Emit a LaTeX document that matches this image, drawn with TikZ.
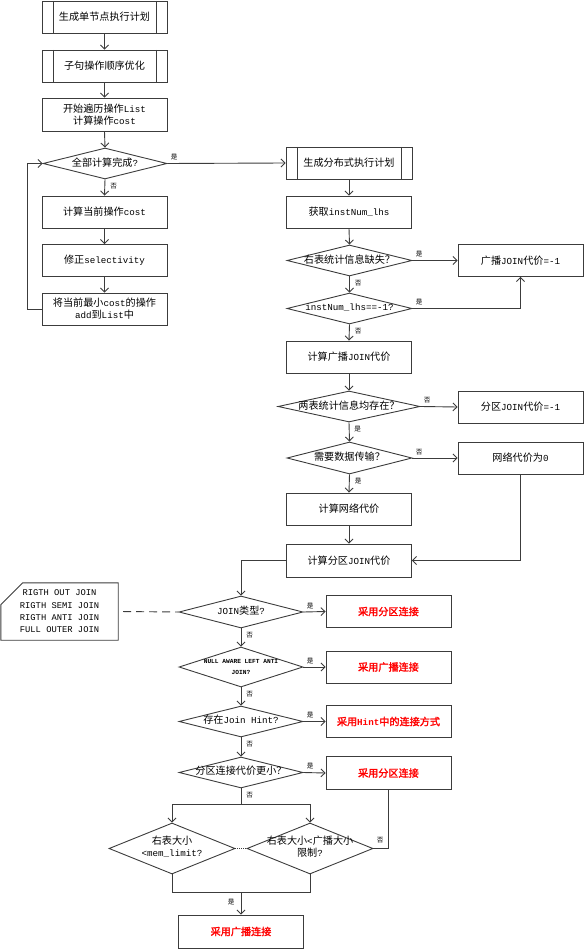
\documentclass[tikz,border=0pt]{standalone}
\usepackage{fontspec}
\setmainfont{Liberation Mono}
\newfontfamily\cjk[Scale=1.1,AutoFakeBold=2]{Noto Sans CJK SC}
\usetikzlibrary{shapes.geometric,arrows.meta,calc}
\newcommand\C[1]{{\cjk #1}}
\newcommand\dt[1]{\makebox[0pt]{\begin{tabular}{@{}c@{}}#1\end{tabular}}}
\definecolor{lc}{RGB}{60,60,60}
\definecolor{rd}{RGB}{255,0,0}
\begin{document}
\begin{tikzpicture}[x=1pt,y=-1pt,
  font=\fontsize{9.2}{12}\selectfont,
  box/.style={rectangle, draw=lc, line width=0.9pt, minimum width=125pt, minimum height=32pt, inner sep=0pt, align=center},
  sub/.style={box, path picture={
      \draw[lc, line width=0.9pt] ([xshift=11pt]path picture bounding box.north west) -- ([xshift=11pt]path picture bounding box.south west);
      \draw[lc, line width=0.9pt] ([xshift=-11pt]path picture bounding box.north east) -- ([xshift=-11pt]path picture bounding box.south east);}},
  res/.style={box, text=rd, font=\fontsize{9.2}{12}\selectfont\bfseries},
  dec/.style={diamond, aspect=4, draw=lc, line width=0.9pt, inner sep=0pt, minimum width=124pt, minimum height=31pt},
  ln/.style={draw=lc, line width=0.9pt},
  arr/.style={ln, -{Straight Barb[length=4pt,width=8pt]}},
  lbl/.style={font=\cjk\fontsize{6}{6}\selectfont, inner sep=1pt, text=black},
  lblE/.style={lbl, at start, anchor=south west, xshift=2pt, yshift=2pt},
  lblS/.style={lbl, at start, anchor=north west, xshift=4pt, yshift=-2pt}]
\useasboundingbox (0,0) rectangle (584,949);

% left column
\node[sub] (b1) at (104.5,17) {\C{生成单节点执行计划}};
\node[sub] (b2) at (104.5,66) {\C{子句操作顺序优化}};
\node[box, minimum height=33pt] (b3) at (104.5,114.5) {\C{开始遍历操作}List\\\C{计算操作}cost};
\node[dec] (d1) at (105,163.5) {\dt{\C{全部计算完成}?}};
\node[box] (b4) at (104.5,212) {\C{计算当前操作}cost};
\node[box] (b5) at (104.5,260.5) {\C{修正}selectivity};
\node[box] (b6) at (104.5,309) {\C{将当前最小}cost\C{的操作}\\add\C{到}List\C{中}};

% right column
\node[sub, minimum width=126pt] (r1) at (349,163) {\C{生成分布式执行计划}};
\node[box] (r2) at (349,212) {\C{获取}instNum\_lhs};
\node[dec, minimum width=125pt] (d2) at (349.5,260.5) {\dt{\C{右表统计信息缺失？}}};
\node[box] (r3) at (520.5,260.5) {\C{广播}JOIN\C{代价}=-1};
\node[dec, minimum width=125pt] (d3) at (349.5,308.5) {\dt{instNum\_lhs==-1?}};
\node[box] (r4) at (349,357) {\C{计算广播}JOIN\C{代价}};
\node[dec, minimum width=142pt] (d4) at (349,406.5) {\dt{\C{两表统计信息均存在？}}};
\node[box] (r5) at (520.5,407) {\C{分区}JOIN\C{代价}=-1};
\node[dec, minimum width=125pt, minimum height=32pt] (d5) at (349.5,458) {\dt{\C{需要数据传输？}}};
\node[box] (r6) at (520.5,458) {\C{网络代价为}0};
\node[box] (r7) at (349,509) {\C{计算网络代价}};
\node[box, minimum height=33pt] (r8) at (349,560.5) {\C{计算分区}JOIN\C{代价}};

% join decisions
\node[minimum width=117pt, minimum height=57pt, inner sep=0pt, align=center,
      font=\fontsize{8.8}{12.3}\selectfont] (note) at (59.5,611.5)
      {RIGTH OUT JOIN\\RIGTH SEMI JOIN\\RIGTH ANTI JOIN\\FULL OUTER JOIN};
\draw[ln] ($(note.north west)+(0,22)$) -- ($(note.north west)+(22,0)$) -- (note.north east)
      -- (note.south east) -- (note.south west) -- cycle;
\node[dec, minimum height=32pt] (d6) at (241,612) {\dt{JOIN\C{类型}?}};
\node[res] (o1) at (388.5,611.5) {\C{采用分区连接}};
\node[dec, minimum height=40pt] (d7) at (241,667)
      {\makebox[0pt]{\fontsize{6.2}{11}\selectfont\bfseries\begin{tabular}{@{}c@{}}NULL AWARE LEFT ANTI\\JOIN?\end{tabular}}};
\node[res] (o2) at (388.5,667) {\C{采用广播连接}};
\node[dec] (d8) at (241,721.5) {\dt{\C{存在}Join Hint?}};
\node[res] (o3) at (388.5,721.5) {\C{采用}Hint\C{中的连接方式}};
\node[dec] (d9) at (241,772.5) {\dt{\C{分区连接代价更小？}}};
\node[res, minimum height=33pt] (o4) at (388.5,773) {\C{采用分区连接}};
\node[dec, minimum width=126pt, minimum height=51pt] (d10) at (172,848.5) {\dt{\C{右表大小}\\<mem\_limit?}};
\node[dec, minimum width=126pt, minimum height=51pt] (d11) at (310,848.5) {\dt{\C{右表大小}<\C{广播大小}\\\C{限制}?}};
\node[res, minimum height=33pt] (o5) at (241,931.5) {\C{采用广播连接}};

% connectors, left column
\draw[arr] (b1.south) -- (b2.north);
\draw[arr] (b2.south) -- (b3.north);
\draw[arr] (b3.south) -- (d1.north);
\draw[arr] (d1.south) -- node[lblS]{否} (b4.north);
\draw[arr] (b4.south) -- (b5.north);
\draw[arr] (b5.south) -- (b6.north);
\draw[arr] (b6.west) -- ++(-14,0) |- (d1.west);
\draw[arr] (d1.east) -- node[lblE]{是} (r1.west);

% right column
\draw[arr] (r1.south) -- (r2.north);
\draw[arr] (r2.south) -- (d2.north);
\draw[arr] (d2.east) -- node[lblE]{是} (r3.west);
\draw[arr] (d2.south) -- node[lblS]{否} (d3.north);
\draw[arr] (d3.east) -| node[lblE]{是} (r3.south);
\draw[arr] (d3.south) -- node[lblS]{否} (r4.north);
\draw[arr] (r4.south) -- (d4.north);
\draw[arr] (d4.east) -- node[lblE]{否} (r5.west);
\draw[arr] (d4.south) -- node[lblS]{是} (d5.north);
\draw[arr] (d5.east) -- node[lblE]{否} (r6.west);
\draw[arr] (d5.south) -- node[lblS]{是} (r7.north);
\draw[arr] (r7.south) -- (r8.north);
\draw[arr] (r6.south) |- (r8.east);
\draw[arr] (r8.west) -| (d6.north);

% join part
\draw[ln, dash pattern=on 8pt off 5pt, shorten <=5pt] (note.east) -- (d6.west);
\draw[arr] (d6.east) -- node[lblE]{是} (o1.west);
\draw[arr] (d6.south) -- node[lblS]{否} (d7.north);
\draw[arr] (d7.east) -- node[lblE]{是} (o2.west);
\draw[arr] (d7.south) -- node[lblS]{否} (d8.north);
\draw[arr] (d8.east) -- node[lblE]{是} (o3.west);
\draw[arr] (d8.south) -- node[lblS]{否} (d9.north);
\draw[arr] (d9.east) -- node[lblE]{是} (o4.west);
\coordinate (sp) at ($(d9.south)+(0,16)$);
\draw[arr] (d9.south) -- node[lblS]{否} (sp) -| (d10.north);
\draw[arr] (sp) -| (d11.north);
\draw[ln, densely dotted] (d10.east) -- (d11.west);
\coordinate (jn) at ($(d10.south)!0.5!(d11.south)+(0,18)$);
\draw[ln] (d10.south) |- (jn) -| (d11.south);
\draw[arr] (jn) -- node[lbl, pos=0.45, left=5pt]{是} (o5.north);
\draw[ln] (d11.east) -| node[lblE, yshift=2pt]{否} (o4.south);
\end{tikzpicture}
\end{document}
